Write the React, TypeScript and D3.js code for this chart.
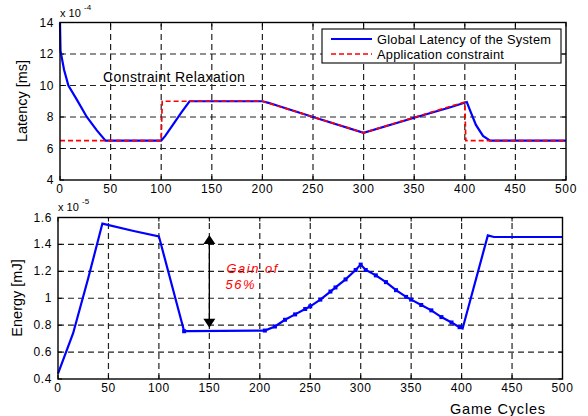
import React from 'react';
import * as d3 from 'd3';

// game cycle ticks shared by both panels
const cycleTicks = [0, 50, 100, 150, 200, 250, 300, 350, 400, 450, 500];
const latencyTicks = [4, 6, 8, 10, 12, 14];
const energyTicks = [0.4, 0.6, 0.8, 1, 1.2, 1.4, 1.6];

// latency (x 1e-4 ms)
const latencyCycles = [0, 0.5, 4, 8.3, 16.6, 26.5, 36.4, 45, 100, 104, 112, 120, 128, 200, 206, 250, 300, 350, 385, 402, 405, 411, 418, 425, 500];
const latencyValues = [14, 12.2, 11, 10, 9.1, 8, 7.15, 6.5, 6.5, 6.8, 7.55, 8.3, 9, 9, 8.9, 8.0, 7.0, 7.95, 8.6, 8.95, 8.45, 7.5, 6.8, 6.5, 6.5];

// application constraint
const constraintCycles = [0, 100, 101, 200, 300, 400, 401, 500];
const constraintValues = [6.5, 6.5, 9, 9, 7, 8.95, 6.5, 6.5];

// energy (x 1e-5 mJ)
const energyCycles = [0, 15, 30, 44, 75, 100, 125, 130, 205, 215, 225, 235, 245, 250, 260, 270, 275, 285, 295, 300, 305, 315, 325, 335, 345, 350, 360, 370, 380, 390, 398, 401, 426, 432, 500];
const energyValues = [0.44, 0.74, 1.15, 1.555, 1.5, 1.46, 0.755, 0.755, 0.76, 0.79, 0.84, 0.88, 0.92, 0.94, 0.99, 1.05, 1.08, 1.14, 1.21, 1.25, 1.21, 1.17, 1.12, 1.06, 1.01, 0.99, 0.95, 0.91, 0.86, 0.82, 0.785, 0.775, 1.467, 1.455, 1.455];

const FONT = '"Liberation Sans", Arial, Helvetica, sans-serif';

const App = () => {
  const W = 588;
  const H = 416;

  // top panel
  const xTop = d3.scaleLinear().domain([0, 500]).range([60, 566]);
  const yTop = d3.scaleLinear().domain([4, 14]).range([180, 22.5]);
  // bottom panel
  const xBot = d3.scaleLinear().domain([0, 500]).range([58, 562.5]);
  const yBot = d3.scaleLinear().domain([0.4, 1.6]).range([379, 217.5]);

  const latency = latencyCycles.map((c, i) => [c, latencyValues[i]] as [number, number]);
  const constraint = constraintCycles.map((c, i) => [c, constraintValues[i]] as [number, number]);
  const energy = energyCycles.map((c, i) => [c, energyValues[i]] as [number, number]);

  const lineTop = d3.line<[number, number]>().x(d => xTop(d[0])).y(d => yTop(d[1]));
  const lineBot = d3.line<[number, number]>().x(d => xBot(d[0])).y(d => yBot(d[1]));

  const panel = (x: d3.ScaleLinear<number, number>, y: d3.ScaleLinear<number, number>, yTicks: number[], fmt: (v: number) => string) => {
    const [x0, x1] = x.range();
    const [y0, y1] = y.range();
    return (
      <g>
        {/* grid */}
        {cycleTicks.slice(1, -1).map(t => (
          <line key={'gx' + t} x1={x(t)} x2={x(t)} y1={y0} y2={y1} stroke="#222" strokeWidth={1.2} strokeDasharray="6,4" />
        ))}
        {yTicks.slice(1, -1).map(t => (
          <line key={'gy' + t} x1={x0} x2={x1} y1={y(t)} y2={y(t)} stroke="#222" strokeWidth={1.2} strokeDasharray="6,4" />
        ))}
        {/* ticks */}
        {cycleTicks.map(t => (
          <g key={'tx' + t}>
            <line x1={x(t)} x2={x(t)} y1={y0} y2={y0 - 4} stroke="#000" />
            <line x1={x(t)} x2={x(t)} y1={y1} y2={y1 + 4} stroke="#000" />
            <text x={x(t)} y={y0 + 12.5} textAnchor="middle" fontSize={12} letterSpacing={0.6} fontFamily={FONT}>{t}</text>
          </g>
        ))}
        {yTicks.map(t => (
          <g key={'ty' + t}>
            <line x1={x0} x2={x0 + 4} y1={y(t)} y2={y(t)} stroke="#000" />
            <line x1={x1} x2={x1 - 4} y1={y(t)} y2={y(t)} stroke="#000" />
            <text x={x0 - 6} y={y(t) + 4} textAnchor="end" fontSize={12} letterSpacing={0.6} fontFamily={FONT}>{fmt(t)}</text>
          </g>
        ))}
      </g>
    );
  };

  const frame = (x: d3.ScaleLinear<number, number>, y: d3.ScaleLinear<number, number>) => {
    const [x0, x1] = x.range();
    const [y0, y1] = y.range();
    return <rect x={x0} y={y1} width={x1 - x0} height={y0 - y1} fill="none" stroke="#000" strokeWidth={1.4} />;
  };

  const arrowX = xBot(150);
  const arrowTop = yBot(1.47);
  const arrowBottom = yBot(0.78);

  return (
    <svg width={W} height={H} style={{ position: 'absolute', left: 0, top: 0, background: '#fff' }} fontFamily={FONT}>
      <rect width={W} height={H} fill="#fff" />

      {/* ---- latency panel ---- */}
      {panel(xTop, yTop, latencyTicks, d => String(d))}
      <path d={lineTop(latency) ?? ''} fill="none" stroke="#0000ff" strokeWidth={2.2} />
      <path d={lineTop(constraint) ?? ''} fill="none" stroke="#ff0000" strokeWidth={1.7} strokeDasharray="5,3" />
      {frame(xTop, yTop)}
      <text x={60} y={17} fontSize={11}>x 10</text>
      <text x={84} y={10} fontSize={8}>-4</text>
      <text transform={`translate(27,101) rotate(-90)`} textAnchor="middle" fontSize={14.5}>Latency [ms]</text>
      <text x={103} y={82} fontSize={14} letterSpacing={0.4}>Constraint Relaxation</text>

      {/* legend */}
      <rect x={322} y={29} width={239} height={34} fill="#fff" stroke="#000" strokeWidth={1.1} />
      <line x1={331} x2={372} y1={39} y2={39} stroke="#0000ff" strokeWidth={2.2} />
      <line x1={331} x2={372} y1={54} y2={54} stroke="#ff0000" strokeWidth={1.7} strokeDasharray="5,3" />
      <text x={377} y={43.5} fontSize={12.8} letterSpacing={0.25}>Global Latency of the System</text>
      <text x={377} y={58.5} fontSize={12.8} letterSpacing={0.25}>Application constraint</text>

      {/* ---- energy panel ---- */}
      {panel(xBot, yBot, energyTicks, d => String(d))}
      <path d={lineBot(energy) ?? ''} fill="none" stroke="#0000ff" strokeWidth={2.2} />
      {energy.filter(d => (d[0] >= 205 && d[0] <= 398) || d[0] === 125).map((d, i) => (
        <rect key={'m' + i} x={xBot(d[0]) - 2} y={yBot(d[1]) - 2} width={4} height={4} fill="#0000ff" />
      ))}
      {frame(xBot, yBot)}
      <text x={58} y={211} fontSize={11}>x 10</text>
      <text x={82} y={204} fontSize={8}>-5</text>
      <text transform={`translate(22,298) rotate(-90)`} textAnchor="middle" fontSize={14.5}>Energy [mJ]</text>

      {/* gain arrow */}
      <line x1={arrowX} x2={arrowX} y1={arrowTop + 8} y2={arrowBottom - 8} stroke="#000" strokeWidth={1.3} />
      <path d={`M${arrowX},${arrowTop} L${arrowX - 6},${arrowTop + 9} L${arrowX + 6},${arrowTop + 9} Z`} fill="#000" />
      <path d={`M${arrowX},${arrowBottom} L${arrowX - 6},${arrowBottom - 9} L${arrowX + 6},${arrowBottom - 9} Z`} fill="#000" />
      <text x={226.5} y={273} fontSize={13} fontStyle="italic" letterSpacing={1.5} fill="#ff0000">Gain of</text>
      <text x={225.5} y={289} fontSize={13} fontStyle="italic" letterSpacing={1.5} fill="#ff0000">56%</text>

      <text x={450} y={414} fontSize={14.5} letterSpacing={0.8}>Game Cycles</text>
    </svg>
  );
};

export default App;
